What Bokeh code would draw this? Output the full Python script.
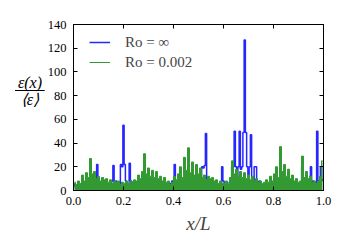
from bokeh.plotting import figure
from bokeh.layouts import row
from bokeh.models import (LinearAxis, Legend, LegendItem, FixedTicker,
                          PrintfTickFormatter, Range1d, Div)
from bokeh.embed import file_html
from bokeh.resources import INLINE

# Ro = infinity (blue), sampled every 0.005 in x/L
blue_seg = [
    [6, 4, 2, 5, 3, 2, 4, 6, 3, 2, 4, 3, 5, 3, 2, 4, 6, 3, 5, 22],
    [8, 3, 4, 2, 5, 2, 3, 4, 2, 5, 3, 8, 21, 4, 8, 2, 3, 5, 22, 20],
    [55, 22, 8, 3, 5, 23, 8, 7, 4, 6, 3, 5, 2, 4, 2, 3, 5, 2, 4, 3],
    [2, 4, 2, 3, 5, 2, 4, 2, 3, 2, 4, 5, 2, 3, 2, 4, 3, 2, 6, 8],
    [4, 22, 3, 5, 2, 4, 2, 3, 5, 2, 4, 3, 2, 4, 2, 5, 3, 4, 2, 5],
    [3, 5, 2, 20, 19, 21, 48, 6, 8, 4, 8, 7, 3, 4, 3, 5, 2, 4, 6, 20],
    [8, 4, 2, 5, 3, 7, 4, 20, 20, 50, 20, 12, 20, 50, 18, 20, 49, 127, 49, 20],
    [12, 20, 47, 10, 8, 20, 20, 8, 7, 8, 3, 4, 2, 5, 3, 2, 4, 2, 5, 3],
    [4, 2, 5, 3, 2, 4, 6, 2, 3, 5, 2, 4, 2, 3, 5, 2, 4, 2, 3, 5],
    [3, 5, 2, 20, 4, 8, 3, 5, 2, 4, 20, 3, 8, 4, 5, 50, 8, 4, 20, 9, 8],
]
blue_y = [v for s in blue_seg for v in s]
blue_x = [i / 200 for i in range(len(blue_y))]

# Ro = 0.002 (green), 125 bins over x/L
green_seg = [
    [7, 5, 8, 6, 13, 8, 15, 11, 27, 14, 16, 10, 12, 8, 11, 9, 10, 7, 9, 6, 8, 7, 8, 5, 7],
    [6, 8, 5, 8, 7, 9, 8, 13, 10, 16, 31, 14, 19, 12, 17, 11, 16, 10, 12, 8, 11, 7, 8, 5, 7],
    [12, 9, 14, 20, 11, 28, 17, 36, 15, 24, 13, 22, 14, 19, 11, 13, 9, 12, 10, 11, 8, 9, 6, 8, 6],
    [6, 8, 5, 11, 25, 14, 18, 12, 16, 11, 15, 10, 13, 9, 12, 8, 10, 7, 8, 6, 7, 9, 7, 12, 8],
    [14, 20, 11, 37, 16, 22, 12, 18, 10, 13, 8, 10, 7, 8, 29, 11, 16, 10, 12, 7, 8, 6, 8, 12, 25],
]
green_y = [v for s in green_seg for v in s]
n_g = len(green_y)
green_x = [(i + 0.5) / n_g for i in range(n_g)]

x_ticks = [0.0, 0.2, 0.4, 0.6, 0.8, 1.0]
y_ticks = [0, 20, 40, 60, 80, 100, 120, 140]
labels = ["Ro = \u221e", "Ro = 0.002"]

SERIF = "Liberation Serif"
GREEN = "#339933"

p = figure(width=306, height=250, output_backend="svg",
           toolbar_location=None, x_range=Range1d(0, 1), y_range=Range1d(0, 140),
           min_border_left=27, min_border_right=27, min_border_top=24,
           min_border_bottom=60)
p.xgrid.visible = False
p.ygrid.visible = False
p.outline_line_color = "black"
p.outline_line_width = 1
p.background_fill_color = "white"
p.border_fill_color = "white"

r_blue = p.step(blue_x, blue_y, mode="center", line_color="#0000ff",
                line_alpha=0.85, line_width=1.5)
p.varea_step(x=green_x, y1=[0] * n_g, y2=green_y, step_mode="center",
             fill_color=GREEN, fill_alpha=1.0)
r_green = p.step(green_x, green_y, mode="center", line_color=GREEN,
                 line_alpha=1.0, line_width=1)

legend = Legend(items=[LegendItem(label=labels[0], renderers=[r_blue]),
                       LegendItem(label=labels[1], renderers=[r_green])],
                location=(16, 118), padding=0, margin=0, spacing=0,
                glyph_width=21, glyph_height=20, label_height=20,
                label_standoff=15, label_text_font=SERIF,
                label_text_font_size="15px", background_fill_alpha=0,
                border_line_alpha=0)
p.add_layout(legend)

for ax in (p.xaxis[0], p.yaxis[0]):
    ax.major_tick_in = 4
    ax.major_tick_out = 0
    ax.minor_tick_in = 0
    ax.minor_tick_out = 0
    ax.axis_line_color = "black"
    ax.major_label_text_font = SERIF
    ax.major_label_text_font_size = "12.5px"
    ax.major_label_text_color = "black"

p.xaxis[0].ticker = FixedTicker(ticks=x_ticks)
p.xaxis[0].formatter = PrintfTickFormatter(format="%.1f")
p.xaxis[0].major_label_standoff = 6
p.xaxis[0].axis_label = "x/L"
p.xaxis[0].axis_label_text_font = SERIF
p.xaxis[0].axis_label_text_font_style = "italic"
p.xaxis[0].axis_label_text_font_size = "19px"
p.xaxis[0].axis_label_standoff = 5

p.yaxis[0].ticker = FixedTicker(ticks=y_ticks)
p.yaxis[0].major_label_standoff = 7

top_ax = LinearAxis(ticker=FixedTicker(ticks=x_ticks), major_tick_in=4, major_tick_out=0,
                    minor_tick_in=0, minor_tick_out=0, major_label_text_font_size="1px",
                    major_label_text_color=None, major_label_standoff=0)
right_ax = LinearAxis(ticker=FixedTicker(ticks=y_ticks), major_tick_in=4, major_tick_out=0,
                      minor_tick_in=0, minor_tick_out=0, major_label_text_font_size="1px",
                      major_label_text_color=None, major_label_standoff=0)
p.add_layout(top_ax, "above")
p.add_layout(right_ax, "right")

# y label: stacked fraction to the left of the axis
ylab = Div(width=44, height=250, margin=0, text=(
    "<div style=\"position:absolute;left:15px;top:76px;width:30px;"
    "font-family:'Liberation Serif';font-style:italic;font-size:16px;"
    "line-height:13px;text-align:center;color:black;\">"
    "<div style=\"border-bottom:1px solid black;padding-bottom:1px;\">\u03b5(x)</div>"
    "<div style=\"padding-top:2px;\">\u27e8\u03b5\u27e9</div></div>"))

layout = row(ylab, p, spacing=0)
open("out.html", "w").write(file_html(layout, INLINE))
